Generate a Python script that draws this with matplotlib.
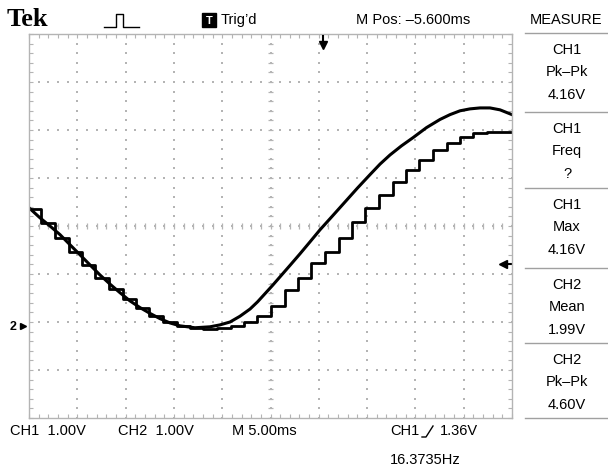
import numpy as np
import matplotlib.pyplot as plt
from matplotlib.ticker import MultipleLocator
from matplotlib.lines import Line2D
from matplotlib.patches import Rectangle

# scope settings
ms_per_div = 5.0
volts_per_div = 1.0
ground_div = -2.08      # 0 V position, divisions from screen centre
trig_level_v = 1.36

# CH2: smooth sine (time in ms, volts)
ch2_t = [0.00, 1.14, 2.17, 3.21, 4.24, 5.28, 6.31, 7.35, 8.38, 9.42, 10.45,
         11.49, 12.52, 13.56, 14.60, 15.63, 17.18, 18.74, 19.77, 20.81, 21.84,
         22.88, 23.66, 24.43, 25.20, 25.98, 27.02, 28.05, 29.09, 30.12, 31.42,
         32.71, 34.00, 35.30, 36.34, 37.37, 38.56, 39.75, 41.15, 42.55, 43.58,
         44.62, 45.65, 46.69, 47.72, 48.76, 50.00]
ch2_v = [2.46, 2.25, 2.08, 1.90, 1.69, 1.48, 1.27, 1.06, 0.87, 0.69, 0.52,
         0.38, 0.26, 0.15, 0.06, 0.00, -0.04, -0.02, 0.02, 0.08, 0.20,
         0.35, 0.50, 0.67, 0.84, 1.02, 1.26, 1.50, 1.75, 2.00, 2.29,
         2.58, 2.87, 3.15, 3.37, 3.56, 3.75, 3.92, 4.13, 4.30, 4.40,
         4.48, 4.52, 4.54, 4.54, 4.50, 4.40]

# CH1: stepped DAC output (sample start times in ms, held volts)
ch1_t = [0.00, 1.29, 2.69, 4.09, 5.49, 6.88, 8.28, 9.68, 11.08, 12.47, 13.87,
         15.27, 16.67, 18.06, 19.46, 20.86, 22.26, 23.65, 25.05, 26.45, 27.85,
         29.24, 30.64, 32.04, 33.44, 34.83, 36.23, 37.63, 39.03, 40.42, 41.82,
         43.22, 44.62, 46.01, 47.41, 48.81]
ch1_v = [2.44, 2.15, 1.83, 1.54, 1.27, 1.00, 0.77, 0.56, 0.375, 0.21, 0.08,
         0.00, -0.04, -0.06, -0.04, 0.00, 0.08, 0.21, 0.42, 0.75, 1.00,
         1.31, 1.54, 1.83, 2.17, 2.46, 2.73, 3.00, 3.25, 3.46, 3.67,
         3.81, 3.94, 4.02, 4.04, 4.04]
t_end = 50.0

measure_boxes = [("CH1", "Pk\u2013Pk", "4.16V"),
                 ("CH1", "Freq", "?"),
                 ("CH1", "Max", "4.16V"),
                 ("CH2", "Mean", "1.99V"),
                 ("CH2", "Pk\u2013Pk", "4.60V")]
box_tops = [33, 112, 188, 268, 343, 418]

W, H = 608, 468
fig = plt.figure(figsize=(W / 100, H / 100), dpi=100)
fig.patch.set_facecolor('white')


def fx(px):
    return px / W


def fy(py):
    return 1 - py / H


grid_c = '#b4b4b4'
ax = fig.add_axes([fx(29), fy(418), 483 / W, 384 / H])
ax.set_xlim(0, 10)
ax.set_ylim(-4, 4)
for s in ax.spines.values():
    s.set_color(grid_c)
    s.set_linewidth(1)
for a in (ax.xaxis, ax.yaxis):
    a.set_major_locator(MultipleLocator(1))
    a.set_minor_locator(MultipleLocator(0.2))
ax.tick_params(which='both', direction='in', top=True, right=True,
               length=3, width=0.8, color=grid_c,
               labelbottom=False, labelleft=False)

# dotted graticule
fine_x = np.arange(0, 10.001, 0.2)
fine_y = np.arange(-4, 4.001, 0.2)
X1, Y1 = np.meshgrid(np.arange(1, 10), fine_y)
X2, Y2 = np.meshgrid(fine_x, np.arange(-3, 4))
ax.scatter(X1.ravel(), Y1.ravel(), s=1.2, marker='s', color=grid_c, linewidths=0)
ax.scatter(X2.ravel(), Y2.ravel(), s=1.2, marker='s', color=grid_c, linewidths=0)
# centre crosshair ticks
ax.vlines(fine_x, -0.06, 0.06, color=grid_c, lw=0.9)
ax.hlines(fine_y, 5 - 0.06, 5 + 0.06, color=grid_c, lw=0.9)

# traces
ax.plot(np.array(ch2_t) / ms_per_div, np.array(ch2_v) / volts_per_div + ground_div,
        color='black', lw=2.2, solid_joinstyle='round')
st = np.append(ch1_t, t_end) / ms_per_div
sv = np.append(ch1_v, ch1_v[-1]) / volts_per_div + ground_div
ax.step(st, sv, where='post', color='black', lw=2.0)

# markers: ground, trigger level, trigger position
ax.plot([-0.12], [ground_div], marker='>', ms=5, color='black', clip_on=False)
fig.text(fx(10), fy(327), '2', fontsize=9, weight='bold', va='center',
         family=['Liberation Sans', 'DejaVu Sans'])
tl = trig_level_v / volts_per_div + ground_div - 0.08
ax.plot([9.8, 9.98], [tl, tl], color='black', lw=1.5)
ax.plot([9.82], [tl], marker='<', ms=6, color='black')
fig.add_artist(Line2D([fx(323), fx(323)], [fy(36), fy(44)], color='black', lw=1.5))
fig.add_artist(Line2D([fx(323)], [fy(45)], marker='v', ms=6, color='black'))

# header
sans = ['Liberation Sans', 'DejaVu Sans']
fig.text(fx(7), fy(20), 'Tek', family=['Liberation Serif', 'DejaVu Serif'],
         weight='bold', fontsize=19, va='center')
fig.add_artist(Line2D([fx(v) for v in [104, 106, 108, 110, 112, 114, 116, 116, 123, 123, 125, 127, 129, 131, 133, 135, 137, 139]],
                      [fy(v) for v in [27, 27, 27, 27, 27, 27, 27, 14, 14, 27, 27, 27, 27, 27, 27, 27, 27, 27]],
                      color='black', lw=1))
fig.add_artist(Rectangle((fx(202), fy(27)), 14 / W, 14 / H, color='black'))
fig.text(fx(209), fy(20.5), 'T', color='white', fontsize=8, weight='bold',
         ha='center', va='center', family=sans)
fig.text(fx(221), fy(20), "Trig\u2019d", fontsize=10.5, va='center', family=sans)
fig.text(fx(356), fy(20), "M Pos: \u20135.600ms", fontsize=10.5, va='center', family=sans)
fig.text(fx(530), fy(20), "MEASURE", fontsize=10.5, va='center', family=sans)

# measure panel
for yb in box_tops:
    fig.add_artist(Line2D([fx(525), fx(608)], [fy(yb), fy(yb)], color='#a0a0a0', lw=1))
for (a, b, c), yb in zip(measure_boxes, box_tops):
    for txt, dy in zip((a, b, c), (17, 39, 62)):
        fig.text(fx(567), fy(yb + dy), txt, fontsize=10.5, ha='center', va='center', family=sans)

# footer
fig.text(fx(10), fy(431), "CH1  1.00V", fontsize=10.5, va='center', family=sans)
fig.text(fx(118), fy(431), "CH2  1.00V", fontsize=10.5, va='center', family=sans)
fig.text(fx(232), fy(431), "M 5.00ms", fontsize=10.5, va='center', family=sans)
fig.text(fx(390), fy(431), "CH1", fontsize=10.5, va='center', family=sans)
fig.add_artist(Line2D([fx(v) for v in [422, 426, 433]], [fy(v) for v in [437, 437, 426]],
                      color='black', lw=1))
fig.text(fx(440), fy(431), "1.36V", fontsize=10.5, va='center', family=sans)
fig.text(fx(390), fy(460), "16.3735Hz", fontsize=10.5, va='center', family=sans)

fig.savefig('out.png', dpi=100, facecolor='white')
